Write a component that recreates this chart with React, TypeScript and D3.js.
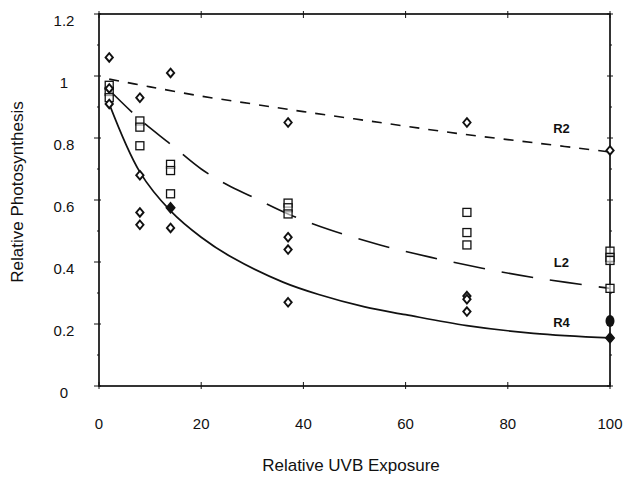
import React from "react";
import * as d3 from "d3";

// observed points [x, y]
const r2Points = [[2, 1.06], [8, 0.93], [14, 1.01], [37, 0.85], [72, 0.85], [100, 0.76]];
const l2Points = [
  [2, 0.97], [2, 0.95], [2, 0.93],
  [8, 0.855], [8, 0.835], [8, 0.775],
  [14, 0.715], [14, 0.695], [14, 0.62],
  [37, 0.59], [37, 0.575], [37, 0.555],
  [72, 0.56], [72, 0.495], [72, 0.455],
  [100, 0.435], [100, 0.415], [100, 0.405], [100, 0.315],
];
const r4Points = [
  [2, 0.96], [2, 0.91], [8, 0.68], [8, 0.56], [8, 0.52], [14, 0.51],
  [37, 0.48], [37, 0.44], [37, 0.27], [72, 0.29], [72, 0.28], [72, 0.24],
];
const r4Filled = [[14, 0.575], [100, 0.155]];
const r4Dot = [[100, 0.21]];

// fitted curves
const r2Fit = [[2, 0.99], [10, 0.965], [20, 0.935], [30, 0.91], [40, 0.885], [55, 0.85], [70, 0.815], [85, 0.785], [100, 0.755]];
const l2Fit = [[2, 0.955], [8, 0.86], [14, 0.78], [20, 0.7], [25, 0.65], [30, 0.61], [37, 0.555], [45, 0.505], [55, 0.455], [65, 0.415], [75, 0.38], [85, 0.35], [100, 0.315]];
const r4Fit = [[2, 0.91], [8, 0.69], [14, 0.565], [20, 0.48], [26, 0.415], [36, 0.335], [43, 0.295], [52, 0.255], [60, 0.23], [72, 0.195], [85, 0.17], [100, 0.155]];

const xTicks = [0, 20, 40, 60, 80, 100];
const yTicks = [0, 0.2, 0.4, 0.6, 0.8, 1, 1.2];
const yMinor = [0.1, 0.3, 0.5, 0.7, 0.9, 1.1];
const curveLabels = [
  { text: "R2", x: 90.5, y: 0.83 },
  { text: "L2", x: 90.5, y: 0.4 },
  { text: "R4", x: 90.5, y: 0.205 },
];

const W = 625;
const H = 477;
const x = d3.scaleLinear().domain([0, 100]).range([99, 610]);
const y = d3.scaleLinear().domain([0, 1.2]).range([386, 14]);

const line = d3
  .line<number[]>()
  .x((d) => x(d[0]))
  .y((d) => y(d[1]))
  .curve(d3.curveCatmullRom.alpha(0.5));

const ink = "#111";
const font = "'Liberation Sans', Arial, Helvetica, sans-serif";

const diamond = (cx: number, cy: number, r = 4.3) =>
  `M${cx},${cy - r}L${cx + r * 0.85},${cy}L${cx},${cy + r}L${cx - r * 0.85},${cy}Z`;

export default function App() {
  return (
    <svg width={W} height={H} style={{ position: "absolute", left: 0, top: 0, background: "#fff" }}>
      {/* frame */}
      <rect x={x(0)} y={y(1.2)} width={x(100) - x(0)} height={y(0) - y(1.2)} fill="none" stroke={ink} strokeWidth={1.7} />
      {/* x ticks */}
      {xTicks.map((t) => (
        <g key={"xt" + t}>
          <line x1={x(t)} x2={x(t)} y1={y(0) - 4} y2={y(0) + 3} stroke={ink} strokeWidth={1} />
          <line x1={x(t)} x2={x(t)} y1={y(1.2) - 3} y2={y(1.2) + 4} stroke={ink} strokeWidth={1} />
          <text x={x(t)} y={429} textAnchor="middle" fontFamily={font} fontSize={15} fill={ink}>
            {t}
          </text>
        </g>
      ))}
      {/* y ticks */}
      {yTicks.map((t) => (
        <g key={"yt" + t}>
          <line x1={x(0) - 5} x2={x(0) + 2} y1={y(t)} y2={y(t)} stroke={ink} strokeWidth={1} />
          <line x1={x(100) - 3} x2={x(100) + 3} y1={y(t)} y2={y(t)} stroke={ink} strokeWidth={1} />
          <text x={64} y={y(t) + 12} textAnchor="middle" fontFamily={font} fontSize={15} fill={ink}>
            {t}
          </text>
        </g>
      ))}
      {yMinor.map((t) => (
        <g key={"ym" + t}>
          <line x1={x(0) - 2} x2={x(0)} y1={y(t)} y2={y(t)} stroke={ink} strokeWidth={1} />
          <line x1={x(100)} x2={x(100) + 2} y1={y(t)} y2={y(t)} stroke={ink} strokeWidth={1} />
        </g>
      ))}

      {/* curves */}
      <path d={line(r2Fit as any) || ""} fill="none" stroke={ink} strokeWidth={1.6} strokeDasharray="10 9" />
      <path d={line(l2Fit as any) || ""} fill="none" stroke={ink} strokeWidth={1.6} strokeDasharray="32 17" />
      <path d={line(r4Fit as any) || ""} fill="none" stroke={ink} strokeWidth={1.7} />

      {/* markers */}
      {l2Points.map((d, i) => (
        <rect key={"l" + i} x={x(d[0]) - 4} y={y(d[1]) - 4} width={8} height={8} fill="#fff" fillOpacity={0.6} stroke={ink} strokeWidth={1.3} />
      ))}
      {[...r2Points, ...r4Points].map((d, i) => (
        <path key={"d" + i} d={diamond(x(d[0]), y(d[1]))} fill="#fff" stroke={ink} strokeWidth={1.9} />
      ))}
      {r4Filled.map((d, i) => (
        <path key={"f" + i} d={diamond(x(d[0]), y(d[1]), 5)} fill={ink} stroke={ink} strokeWidth={1.5} />
      ))}
      {r4Dot.map((d, i) => (
        <ellipse key={"c" + i} cx={x(d[0])} cy={y(d[1])} rx={4.5} ry={6} fill={ink} />
      ))}

      {/* curve labels */}
      {curveLabels.map((l) => (
        <text key={l.text} x={x(l.x)} y={y(l.y)} textAnchor="middle" dominantBaseline="central" fontFamily={font} fontSize={13} fontWeight="bold" fill={ink}>
          {l.text}
        </text>
      ))}

      {/* axis titles */}
      <text x={351} y={471} textAnchor="middle" fontFamily={font} fontSize={17} fill={ink}>
        Relative UVB Exposure
      </text>
      <text transform="translate(23,192) rotate(-90)" textAnchor="middle" fontFamily={font} fontSize={17} fill={ink}>
        Relative Photosynthesis
      </text>
    </svg>
  );
}
